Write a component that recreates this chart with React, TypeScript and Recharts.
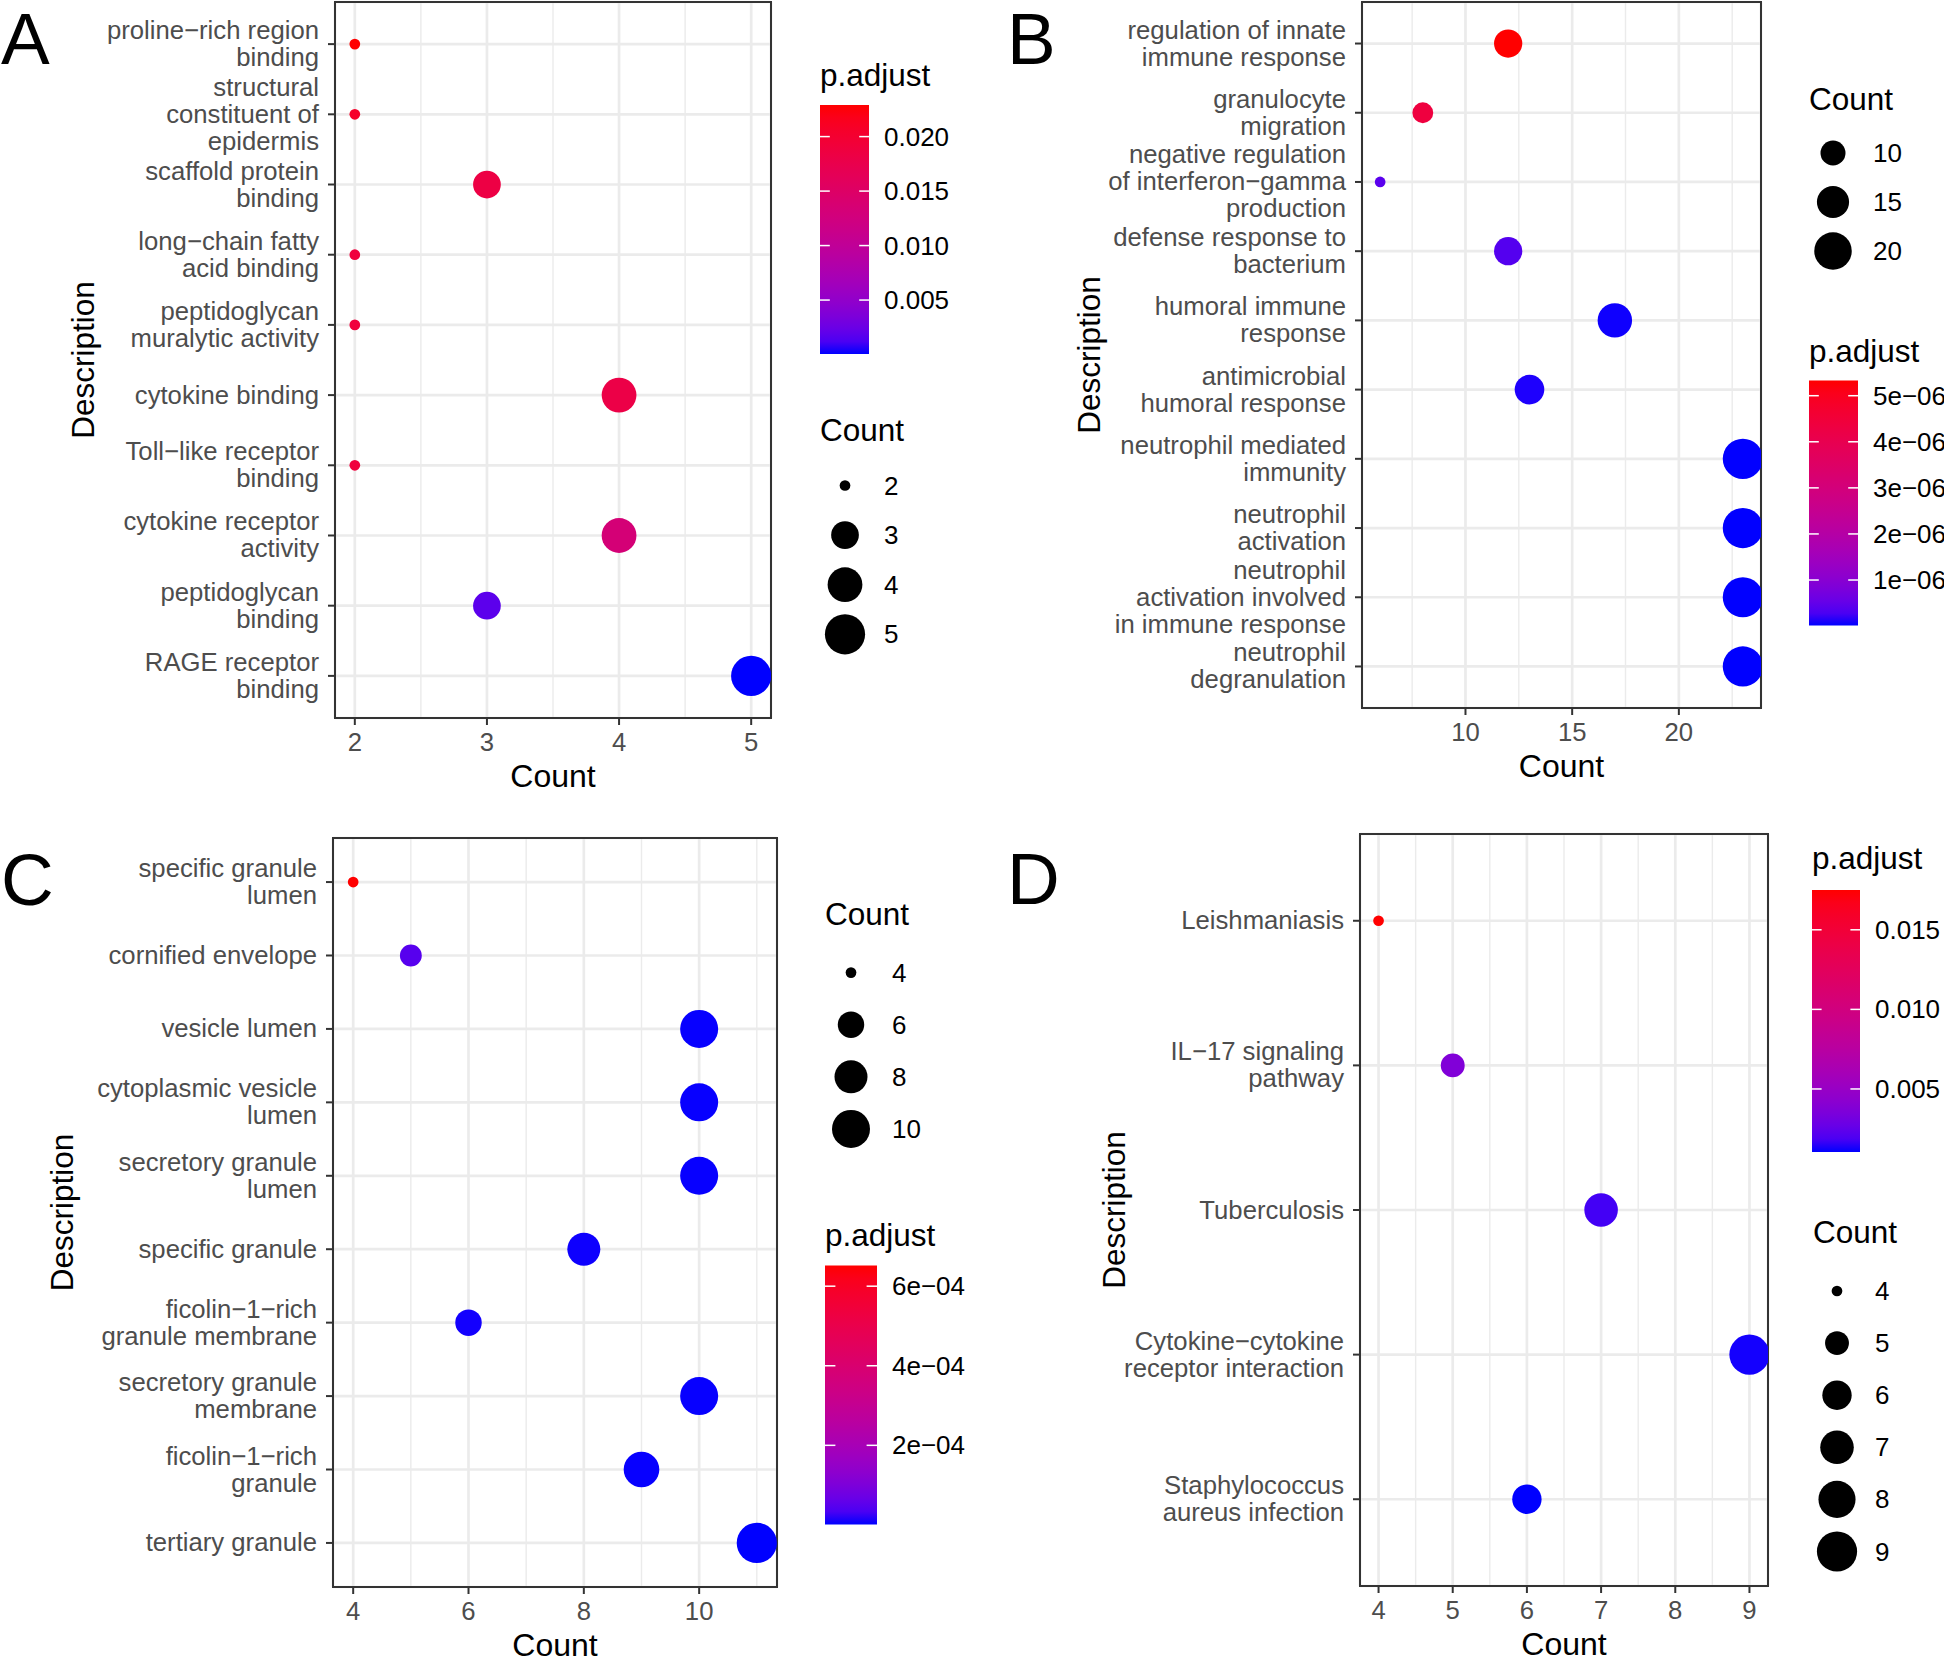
import React from 'react';
import { ScatterChart, Scatter, XAxis, YAxis, CartesianGrid, ReferenceArea } from 'recharts';

const FONT = '"Liberation Sans", Arial, Helvetica, sans-serif';

// ---- panel A: GO molecular function ----
const A_TERMS = [
  'proline−rich region\nbinding',
  'structural\nconstituent of\nepidermis',
  'scaffold protein\nbinding',
  'long−chain fatty\nacid binding',
  'peptidoglycan\nmuralytic activity',
  'cytokine binding',
  'Toll−like receptor\nbinding',
  'cytokine receptor\nactivity',
  'peptidoglycan\nbinding',
  'RAGE receptor\nbinding',
];
const A_COUNT = [2, 2, 3, 2, 2, 4, 2, 4, 3, 5];
const A_PADJ = [0.0229, 0.0206, 0.0183, 0.019, 0.019, 0.018, 0.019, 0.0133, 0.0018, 0.00005];
const A_X_TICKS = [2, 3, 4, 5];
const A_X_MINOR = [2.5, 3.5, 4.5];
const A_P_TICKS = [0.005, 0.01, 0.015, 0.02];
const A_P_LABELS = ['0.005', '0.010', '0.015', '0.020'];
const A_SIZE_KEYS = [2, 3, 4, 5];

// ---- panel B: GO biological process ----
const B_TERMS = [
  'regulation of innate\nimmune response',
  'granulocyte\nmigration',
  'negative regulation\nof interferon−gamma\nproduction',
  'defense response to\nbacterium',
  'humoral immune\nresponse',
  'antimicrobial\nhumoral response',
  'neutrophil mediated\nimmunity',
  'neutrophil\nactivation',
  'neutrophil\nactivation involved\nin immune response',
  'neutrophil\ndegranulation',
];
const B_COUNT = [12, 8, 6, 12, 17, 13, 23, 23, 23, 23];
const B_PADJ = [5.33e-6, 4.37e-6, 0.4e-6, 0.35e-6, 0.03e-6, 0.06e-6, 0.015e-6, 0.014e-6, 0.014e-6, 0.013e-6];
const B_X_TICKS = [10, 15, 20];
const B_X_MINOR = [7.5, 12.5, 17.5, 22.5];
const B_P_TICKS = [1e-6, 2e-6, 3e-6, 4e-6, 5e-6];
const B_P_LABELS = ['1e−06', '2e−06', '3e−06', '4e−06', '5e−06'];
const B_SIZE_KEYS = [10, 15, 20];

// ---- panel C: GO cellular component ----
const C_TERMS = [
  'specific granule\nlumen',
  'cornified envelope',
  'vesicle lumen',
  'cytoplasmic vesicle\nlumen',
  'secretory granule\nlumen',
  'specific granule',
  'ficolin−1−rich\ngranule membrane',
  'secretory granule\nmembrane',
  'ficolin−1−rich\ngranule',
  'tertiary granule',
];
const C_COUNT = [4, 5, 10, 10, 10, 8, 6, 10, 9, 11];
const C_PADJ = [6.52e-4, 0.45e-4, 0.02e-4, 0.02e-4, 0.02e-4, 0.03e-4, 0.04e-4, 0.02e-4, 0.02e-4, 0.01e-4];
const C_X_TICKS = [4, 6, 8, 10];
const C_X_MINOR = [5, 7, 9, 11];
const C_P_TICKS = [2e-4, 4e-4, 6e-4];
const C_P_LABELS = ['2e−04', '4e−04', '6e−04'];
const C_SIZE_KEYS = [4, 6, 8, 10];

// ---- panel D: KEGG ----
const D_TERMS = [
  'Leishmaniasis',
  'IL−17 signaling\npathway',
  'Tuberculosis',
  'Cytokine−cytokine\nreceptor interaction',
  'Staphylococcus\naureus infection',
];
const D_COUNT = [4, 5, 7, 9, 6];
const D_PADJ = [0.0175, 0.0037, 0.0017, 0.00112, 0.00104];
const D_X_TICKS = [4, 5, 6, 7, 8, 9];
const D_X_MINOR = [4.5, 5.5, 6.5, 7.5, 8.5];
const D_P_TICKS = [0.005, 0.01, 0.015];
const D_P_LABELS = ['0.005', '0.010', '0.015'];
const D_SIZE_KEYS = [4, 5, 6, 7, 8, 9];

// blue -> red gradient interpolated in Lab, like ggplot's scale_colour_gradient
const toLin = (c: number) => (c <= 0.04045 ? c / 12.92 : Math.pow((c + 0.055) / 1.055, 2.4));
const fromLin = (c: number) => (c <= 0.0031308 ? 12.92 * c : 1.055 * Math.pow(c, 1 / 2.4) - 0.055);
const fLab = (t: number) => (t > 0.008856 ? Math.cbrt(t) : 7.787 * t + 16 / 116);
const fInv = (f: number) => (f * f * f > 0.008856 ? f * f * f : (f - 16 / 116) / 7.787);

function rgbToLab([r, g, b]: number[]) {
  const R = toLin(r), G = toLin(g), B = toLin(b);
  const X = (0.4124564 * R + 0.3575761 * G + 0.1804375 * B) / 0.95047;
  const Y = 0.2126729 * R + 0.7151522 * G + 0.072175 * B;
  const Z = (0.0193339 * R + 0.119192 * G + 0.9503041 * B) / 1.08883;
  const fx = fLab(X), fy = fLab(Y), fz = fLab(Z);
  return [116 * fy - 16, 500 * (fx - fy), 200 * (fy - fz)];
}

function labToHex([L, a, bb]: number[]) {
  const fy = (L + 16) / 116;
  const X = 0.95047 * fInv(fy + a / 500);
  const Y = fInv(fy);
  const Z = 1.08883 * fInv(fy - bb / 200);
  const rgb = [
    3.2404542 * X - 1.5371385 * Y - 0.4985314 * Z,
    -0.969266 * X + 1.8760108 * Y + 0.041556 * Z,
    0.0556434 * X - 0.2040259 * Y + 1.0572252 * Z,
  ];
  return (
    '#' +
    rgb
      .map((c) => Math.round(Math.min(1, Math.max(0, fromLin(Math.min(1, Math.max(0, c))))) * 255))
      .map((v) => v.toString(16).padStart(2, '0'))
      .join('')
  );
}

const LAB_LOW = rgbToLab([0, 0, 1]);
const LAB_HIGH = rgbToLab([1, 0, 0]);
const gradColor = (t: number) => {
  const k = Math.min(1, Math.max(0, t));
  return labToHex(LAB_LOW.map((v, i) => v + (LAB_HIGH[i] - v) * k));
};

const GRAD_STOPS = Array.from({ length: 21 }, (_, i) => i / 20);

type LegendPos = { titleX: number; titleY: number; x: number; y: number; w?: number; h?: number; step?: number; labelX: number };

interface PanelProps {
  id: string;
  letter: string;
  letterX: number;
  letterY: number;
  terms: string[];
  counts: number[];
  padj: number[];
  xTicks: number[];
  xMinor: number[];
  pTicks: number[];
  pLabels: string[];
  sizeKeys: number[];
  plot: { x: number; y: number; w: number; h: number };
  descX: number;
  bar: LegendPos;
  size: LegendPos;
}

const YW = 330;
const MT = 20;
const MR = 6;
const XH = 90;
const TICK_FS = 25.7;
const LEG_FS = 26;
const TITLE_FS = 31.5;

function makeScales(counts: number[], padj: number[]) {
  const cMin = Math.min(...counts), cMax = Math.max(...counts);
  const pMin = Math.min(...padj), pMax = Math.max(...padj);
  const radius = (v: number) => {
    const s = 1 + 5 * Math.sqrt(cMax === cMin ? 1 : (v - cMin) / (cMax - cMin));
    return 2.95 * s + 2.4;
  };
  const color = (p: number) => gradColor((p - pMin) / (pMax - pMin));
  return { cMin, cMax, pMin, pMax, radius, color };
}

function Panel(p: PanelProps) {
  const { cMin, cMax, radius, color } = makeScales(p.counts, p.padj);
  const pad = (cMax - cMin) * 0.05;
  const lo = cMin - pad;
  const hi = cMax + pad;
  const n = p.terms.length;
  const data = p.terms.map((t, i) => ({ idx: i, count: p.counts[i], padj: p.padj[i] }));
  const yTicks = p.terms.map((_, i) => i);
  const chartLeft = p.plot.x - YW;
  const chartTop = p.plot.y - MT;

  const YTick = (props: any) => {
    const { x, y, payload } = props;
    const lines = p.terms[payload.value].split('\n');
    const L = 27;
    const y0 = y - ((lines.length - 1) * L) / 2 + 8.5;
    return (
      <text x={x} y={y0} textAnchor="end" fontSize={TICK_FS} fill="#4D4D4D" fontFamily={FONT}>
        {lines.map((ln, i) => (
          <tspan key={i} x={x} dy={i === 0 ? 0 : L}>
            {ln}
          </tspan>
        ))}
      </text>
    );
  };

  const Dot = (props: any) => {
    const { cx, cy, payload } = props;
    return <circle cx={cx} cy={cy} r={radius(payload.count)} fill={color(payload.padj)} />;
  };

  return (
    <div style={{ position: 'absolute', left: chartLeft, top: chartTop }}>
      <ScatterChart
        width={YW + p.plot.w + MR}
        height={MT + p.plot.h + XH}
        margin={{ top: MT, right: MR, bottom: 0, left: 0 }}
      >
        <CartesianGrid
          horizontal={false}
          stroke="#EBEBEB"
          strokeWidth={1.4}
          verticalCoordinatesGenerator={({ xAxis, offset }: any) =>
            p.xMinor.map((v) =>
              xAxis && typeof xAxis.scale === 'function'
                ? xAxis.scale(v)
                : offset.left + ((v - lo) / (hi - lo)) * offset.width,
            )
          }
        />
        <CartesianGrid stroke="#EBEBEB" strokeWidth={2.7} />
        <XAxis
          type="number"
          dataKey="count"
          domain={[lo, hi]}
          ticks={p.xTicks}
          interval={0}
          allowDataOverflow
          height={XH}
          tickSize={7}
          tickMargin={8}
          axisLine={false}
          tickLine={{ stroke: '#333333', strokeWidth: 2 }}
          tick={{ fontSize: TICK_FS, fill: '#4D4D4D', fontFamily: FONT }}
          label={{
            value: 'Count',
            position: 'insideBottom',
            offset: 21,
            style: { fontSize: 32, fill: '#000000', fontFamily: FONT },
          }}
        />
        <YAxis
          type="number"
          dataKey="idx"
          domain={[-0.6, n - 1 + 0.6]}
          ticks={yTicks}
          interval={0}
          reversed
          allowDataOverflow
          width={YW}
          tickSize={7}
          tickMargin={9}
          axisLine={false}
          tickLine={{ stroke: '#333333', strokeWidth: 2 }}
          tick={YTick}
          label={{
            value: 'Description',
            angle: -90,
            position: 'insideLeft',
            offset: p.descX - chartLeft,
            style: { fontSize: TITLE_FS, fill: '#000000', fontFamily: FONT, textAnchor: 'middle' },
          }}
        />
        <Scatter data={data} shape={Dot} isAnimationActive={false} />
        <ReferenceArea
          x1={lo}
          x2={hi}
          y1={-0.6}
          y2={n - 1 + 0.6}
          fill="none"
          fillOpacity={0}
          stroke="#333333"
          strokeWidth={2}
          ifOverflow="visible"
        />
      </ScatterChart>
    </div>
  );
}

function Legends(p: PanelProps) {
  const { pMin, pMax, radius } = makeScales(p.counts, p.padj);
  const b = p.bar;
  const bw = b.w || 49;
  const bh = b.h || 250;
  const gid = `grad-${p.id}`;
  const tickY = (v: number) => b.y + bh - ((v - pMin) / (pMax - pMin)) * bh;
  const s = p.size;
  return (
    <g fontFamily={FONT}>
      <text x={p.letterX} y={p.letterY} fontSize={73} fill="#000">
        {p.letter}
      </text>
      <defs>
        <linearGradient id={gid} x1="0" y1="1" x2="0" y2="0">
          {GRAD_STOPS.map((t) => (
            <stop key={t} offset={t} stopColor={gradColor(t)} />
          ))}
        </linearGradient>
      </defs>
      <text x={b.titleX} y={b.titleY} fontSize={TITLE_FS} fill="#000">
        p.adjust
      </text>
      <rect x={b.x} y={b.y} width={bw} height={bh} fill={`url(#${gid})`} />
      {p.pTicks.map((v, i) => (
        <g key={i}>
          <line x1={b.x} x2={b.x + bw / 5} y1={tickY(v)} y2={tickY(v)} stroke="#fff" strokeWidth={1.5} />
          <line x1={b.x + (bw * 4) / 5} x2={b.x + bw} y1={tickY(v)} y2={tickY(v)} stroke="#fff" strokeWidth={1.5} />
          <text x={b.labelX} y={tickY(v) + 9} fontSize={LEG_FS} fill="#000">
            {p.pLabels[i]}
          </text>
        </g>
      ))}
      <text x={s.titleX} y={s.titleY} fontSize={TITLE_FS} fill="#000">
        Count
      </text>
      {p.sizeKeys.map((k, i) => {
        const cy = s.y + i * (s.step || 50);
        return (
          <g key={k}>
            <circle cx={s.x} cy={cy} r={radius(k)} fill="#000" />
            <text x={s.labelX} y={cy + 9} fontSize={LEG_FS} fill="#000">
              {k}
            </text>
          </g>
        );
      })}
    </g>
  );
}

const PANELS: PanelProps[] = [
  {
    id: 'A', letter: 'A', letterX: 1, letterY: 64,
    terms: A_TERMS, counts: A_COUNT, padj: A_PADJ, xTicks: A_X_TICKS, xMinor: A_X_MINOR,
    pTicks: A_P_TICKS, pLabels: A_P_LABELS, sizeKeys: A_SIZE_KEYS,
    plot: { x: 335, y: 1.5, w: 436, h: 716 }, descX: 83,
    bar: { titleX: 820, titleY: 86, x: 820, y: 105, w: 49, h: 249, labelX: 884 },
    size: { titleX: 820, titleY: 441, x: 845, y: 485.5, step: 49.6, labelX: 884 },
  },
  {
    id: 'B', letter: 'B', letterX: 1007, letterY: 64,
    terms: B_TERMS, counts: B_COUNT, padj: B_PADJ, xTicks: B_X_TICKS, xMinor: B_X_MINOR,
    pTicks: B_P_TICKS, pLabels: B_P_LABELS, sizeKeys: B_SIZE_KEYS,
    plot: { x: 1362, y: 2, w: 399, h: 706 }, descX: 1089,
    bar: { titleX: 1809, titleY: 362, x: 1809, y: 380.5, w: 49, h: 245, labelX: 1873 },
    size: { titleX: 1809, titleY: 110, x: 1833, y: 153, step: 49, labelX: 1873 },
  },
  {
    id: 'C', letter: 'C', letterX: 1, letterY: 905,
    terms: C_TERMS, counts: C_COUNT, padj: C_PADJ, xTicks: C_X_TICKS, xMinor: C_X_MINOR,
    pTicks: C_P_TICKS, pLabels: C_P_LABELS, sizeKeys: C_SIZE_KEYS,
    plot: { x: 333, y: 838, w: 444, h: 749 }, descX: 62,
    bar: { titleX: 825, titleY: 1246, x: 825, y: 1265.5, w: 52, h: 259, labelX: 892 },
    size: { titleX: 825, titleY: 925, x: 851, y: 972.6, step: 52.1, labelX: 892 },
  },
  {
    id: 'D', letter: 'D', letterX: 1007, letterY: 904,
    terms: D_TERMS, counts: D_COUNT, padj: D_PADJ, xTicks: D_X_TICKS, xMinor: D_X_MINOR,
    pTicks: D_P_TICKS, pLabels: D_P_LABELS, sizeKeys: D_SIZE_KEYS,
    plot: { x: 1360, y: 834, w: 408, h: 752 }, descX: 1114,
    bar: { titleX: 1812, titleY: 869, x: 1812, y: 890, w: 48, h: 262, labelX: 1875 },
    size: { titleX: 1813, titleY: 1243, x: 1837, y: 1291, step: 52.1, labelX: 1875 },
  },
];

export default function App() {
  return (
    <div
      style={{
        position: 'absolute',
        left: 0,
        top: 0,
        width: 1944,
        height: 1660,
        overflow: 'hidden',
        background: '#ffffff',
        fontFamily: FONT,
      }}
    >
      {PANELS.map((p) => (
        <Panel key={p.id} {...p} />
      ))}
      <svg
        width={1944}
        height={1660}
        style={{ position: 'absolute', left: 0, top: 0, pointerEvents: 'none' }}
      >
        {PANELS.map((p) => (
          <Legends key={p.id} {...p} />
        ))}
      </svg>
    </div>
  );
}
